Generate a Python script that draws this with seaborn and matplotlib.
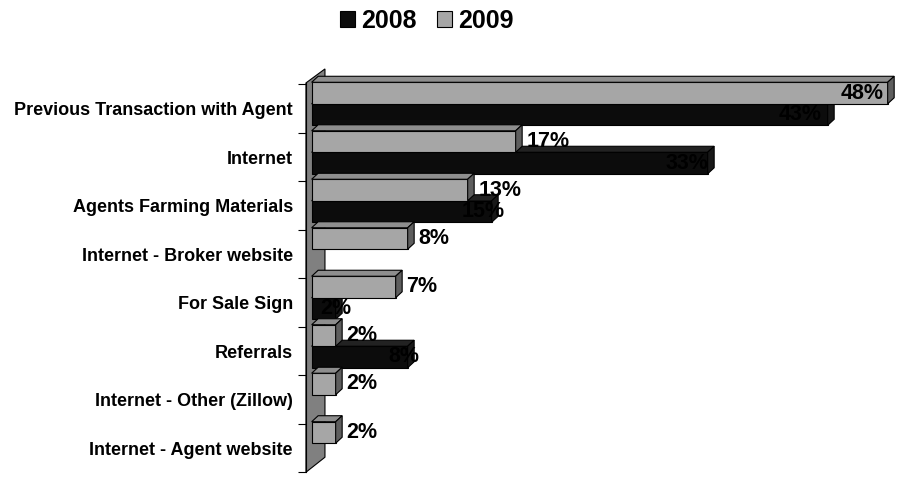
import numpy as np
import pandas as pd
import matplotlib
matplotlib.use("Agg")
import matplotlib.pyplot as plt
import seaborn as sns
from matplotlib.patches import Polygon, Patch
from matplotlib.transforms import IdentityTransform

# ---- data -------------------------------------------------------------
categories = [
    "Previous Transaction with Agent",
    "Internet",
    "Agents Farming Materials",
    "Internet - Broker website",
    "For Sale Sign",
    "Referrals",
    "Internet - Other (Zillow)",
    "Internet - Agent website",
]
values_2008 = [43, 33, 15, np.nan, 2, 8, np.nan, np.nan]
values_2009 = [48, 17, 13, 8, 7, 2, 2, 2]
years = ["2008", "2009"]

# ---- style ------------------------------------------------------------
sns.set_theme(style="white")
plt.rcParams["font.family"] = ["Liberation Sans", "DejaVu Sans"]
plt.rcParams["font.weight"] = "bold"
plt.rcParams["text.color"] = "black"
plt.rcParams["ytick.labelcolor"] = "black"
plt.rcParams["ytick.color"] = "black"

palette = {"2009": "#A6A6A6", "2008": "#0C0C0C"}
top_face = {"2009": "#8E8E8E", "2008": "#222222"}
side_face = {"2009": "#5E5E5E", "2008": "#181818"}
DX, DY = 6.5, 6.0          # bar depth (pixels)
WALL_DX, WALL_DY = 19, 14  # back-wall depth (pixels)

df = pd.DataFrame({
    "category": categories * 2,
    "year": ["2009"] * len(categories) + ["2008"] * len(categories),
    "share": values_2009 + values_2008,
}).dropna()

DPI = 100
fig = plt.figure(figsize=(9.02, 4.8), dpi=DPI)
ax = fig.add_axes([0.3392, 0.016, 0.6489, 0.8382])

sns.barplot(
    data=df, y="category", x="share", hue="year",
    order=categories, hue_order=["2009", "2008"],
    palette=palette, saturation=1, width=0.887, orient="h",
    edgecolor="black", linewidth=0.8, legend=False, ax=ax,
)

ax.set_xlim(-0.475, 48.3)
ax.set_ylim(7.598, -0.697)
ax.set_xticks([])
ax.set_xlabel("")
ax.set_ylabel("")

# category labels between boundary ticks
n = len(categories)
ax.set_yticks([i + 0.1 for i in range(n)], labels=categories)
ax.set_yticks([i - 0.4 for i in range(n + 1)], minor=True)
ax.tick_params(axis="y", which="major", length=0, pad=9.4, labelsize=13,
               labelcolor="black")
ax.tick_params(axis="y", which="minor", left=True, length=6, width=0.8,
               color="black", direction="out")
for lbl in ax.get_yticklabels():
    lbl.set_fontweight("bold")
    lbl.set_color("black")

for s in ("top", "right", "bottom"):
    ax.spines[s].set_visible(False)
ax.spines["left"].set_color("black")
ax.spines["left"].set_linewidth(0.8)
ax.spines["left"].set_bounds(-0.43, 7.598)
ax.spines["left"].set_zorder(6)

T = ax.transData

# back wall of the 3D plot area
xf = T.transform((ax.get_xlim()[0], 0))[0]
yt = T.transform((0, -0.43))[1]
yb = T.transform((0, 7.598))[1]
wall = Polygon(
    [(xf, yb), (xf, yt), (xf + WALL_DX, yt + WALL_DY), (xf + WALL_DX, yb + WALL_DY + 1)],
    closed=True, facecolor="#808080", edgecolor="black", linewidth=0.8,
    transform=IdentityTransform(), zorder=0.9, clip_on=False,
)
ax.add_patch(wall)

# extrude each bar with a top and a right face
def year_of(container):
    fc = container.patches[0].get_facecolor()
    return "2008" if fc[0] < 0.3 else "2009"

containers = sorted(ax.containers, key=lambda c: 0 if year_of(c) == "2008" else 1)
for cont in containers:
    yr = year_of(cont)
    z = 2 if yr == "2008" else 3
    for bar in cont.patches:
        w = bar.get_width()
        if not np.isfinite(w) or w <= 0:
            continue
        bar.set_zorder(z)
        x0, y0, h = bar.get_x(), bar.get_y(), bar.get_height()
        p0 = T.transform((x0, y0))
        p1 = T.transform((x0 + w, y0 + h))
        px0, px1 = min(p0[0], p1[0]), max(p0[0], p1[0])
        ytop, ybot = max(p0[1], p1[1]), min(p0[1], p1[1])
        top = Polygon([(px0, ytop), (px1, ytop), (px1 + DX, ytop + DY), (px0 + DX, ytop + DY)],
                      closed=True, facecolor=top_face[yr], edgecolor="black", linewidth=0.8,
                      transform=IdentityTransform(), zorder=z, clip_on=False)
        side = Polygon([(px1, ybot), (px1, ytop), (px1 + DX, ytop + DY), (px1 + DX, ybot + DY)],
                       closed=True, facecolor=side_face[yr], edgecolor="black", linewidth=0.8,
                       transform=IdentityTransform(), zorder=z, clip_on=False)
        ax.add_patch(top)
        ax.add_patch(side)

        yc = y0 + h / 2
        label = f"{w:.0f}%"
        if yr == "2009":
            xl = w + 0.9
            if xl + 3.6 > ax.get_xlim()[1]:
                ax.text(w - 0.3, yc, label, ha="right", va="center", fontsize=15.5,
                        fontweight="bold", color="black", zorder=7)
            else:
                ax.text(xl, yc, label, ha="left", va="center", fontsize=15.5,
                        fontweight="bold", color="black", zorder=7)
        else:
            ax.text(0.944 * w + 0.1, yc, label, ha="center", va="center", fontsize=15.5,
                    fontweight="bold", color="black", zorder=7)

# legend
handles = [Patch(facecolor=palette[y], edgecolor="black", linewidth=0.8) for y in years]
leg = fig.legend(handles, years, loc="center", bbox_to_anchor=(427 / 902, 1 - 20.7 / 480),
                 ncol=2, frameon=False, prop=dict(weight="bold", size=18),
                 handlelength=0.6, handleheight=0.6, handletextpad=0.25,
                 columnspacing=0.8, borderpad=0)
for t in leg.get_texts():
    t.set_color("black")

fig.savefig("out.png", dpi=DPI)
